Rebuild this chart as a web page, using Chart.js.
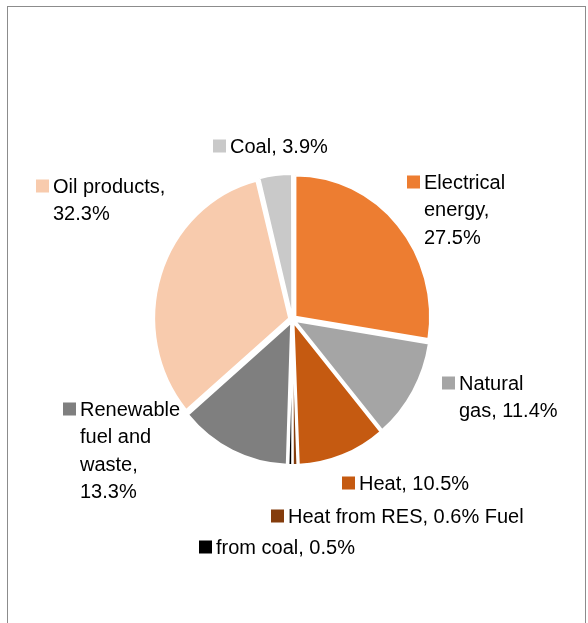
<!DOCTYPE html>
<html>
<head>
<meta charset="utf-8">
<title>Final energy consumption by fuel</title>
<script src="https://cdn.jsdelivr.net/npm/chart.js@4.4.1/dist/chart.umd.min.js"></script>
<style>
    html, body { margin: 0; padding: 0; background: #fff; }
    #wrap { position: relative; width: 588px; height: 623px; overflow: hidden; }
    #frame {
        position: absolute; left: 7px; top: 6px; width: 579px; height: 640px;
        border: 1px solid #8c8c8c; box-sizing: border-box;
    }
    canvas { position: absolute; left: 0; top: 0; }
</style>
</head>
<body>
<div id="wrap">
    <div id="frame"></div>
    <canvas id="pie" width="588" height="623"></canvas>
</div>
<script>
// slices, clockwise from 12 o'clock
const categories = ['Electrical energy', 'Natural gas', 'Heat', 'Heat from RES',
    'Fuel from coal', 'Renewable fuel and waste', 'Oil products', 'Coal'];
const shares = [27.5, 11.4, 10.5, 0.6, 0.5, 13.3, 32.3, 3.9];
const sliceColors = ['#ed7d31', '#a5a5a5', '#c55a11', '#843c0c',
    '#000000', '#7f7f7f', '#f8cbad', '#c9c9c9'];

// label placement: left edge of text, centre of first line, wrap width
const labelBoxes = [
    { x: 424, y: 183, w: 95 },
    { x: 459, y: 384, w: 103 },
    { x: 359, y: 484, w: 220 },
    { x: 288, y: 517, w: 300 },
    { x: 216, y: 548, w: 220 },
    { x: 80,  y: 410, w: 110 },
    { x: 53,  y: 187, w: 140 },
    { x: 230, y: 147, w: 220 }
];

const labelText = categories.map((c, i) => c + ', ' + shares[i].toFixed(1) + '%');
// the coal label spills its first word onto the line above
labelText[3] += ' Fuel';
labelText[4] = labelText[4].replace(/^Fuel /, '');

const FONT = '20px "Liberation Sans", Arial, sans-serif';
const LINE_H = 27.5;
const KEY = 13;
const EXPLODE = 4;          // px every slice is pulled out from the centre
const SQUASH = [0.975, 1.025]; // the pie is drawn slightly taller than wide

function wrapWords(ctx, text, maxW) {
    const words = text.split(' ');
    const lines = [];
    let cur = '';
    words.forEach(w => {
        const test = cur ? cur + ' ' + w : w;
        if (cur && ctx.measureText(test).width > maxW) {
            lines.push(cur);
            cur = w;
        } else {
            cur = test;
        }
    });
    if (cur) lines.push(cur);
    return lines;
}

// Chart.js draws offset/4 and adds extra for thin arcs; undo that so
// all slices sit the same distance out
function sliceOffset(ctx) {
    const circ = shares[ctx.dataIndex] / 100 * Math.PI * 2;
    const fix = 1 - Math.sin(Math.min(Math.PI, circ));
    return 4 * EXPLODE / (1 + fix);
}

// stretch the pie about its own centre
const ovalPie = {
    id: 'ovalPie',
    beforeDatasetsDraw(chart) {
        const arc = chart.getDatasetMeta(0).data[0];
        const ctx = chart.ctx;
        ctx.save();
        ctx.translate(arc.x, arc.y);
        ctx.scale(SQUASH[0], SQUASH[1]);
        ctx.translate(-arc.x, -arc.y);
    },
    afterDatasetsDraw(chart) {
        chart.ctx.restore();
    }
};

// data labels with a colour key in front of the first line
const sliceLabels = {
    id: 'sliceLabels',
    afterDraw(chart) {
        const ctx = chart.ctx;
        ctx.save();
        ctx.font = FONT;
        ctx.textBaseline = 'middle';
        ctx.textAlign = 'left';
        labelBoxes.forEach((b, i) => {
            const lines = wrapWords(ctx, labelText[i], b.w);
            ctx.fillStyle = sliceColors[i];
            ctx.fillRect(b.x - KEY - 4, b.y - KEY / 2 - 1, KEY, KEY);
            ctx.fillStyle = '#000';
            lines.forEach((ln, k) => ctx.fillText(ln, b.x, b.y + k * LINE_H));
        });
        ctx.restore();
    }
};

new Chart(document.getElementById('pie'), {
    type: 'pie',
    data: {
        labels: categories,
        datasets: [{
            data: shares,
            backgroundColor: sliceColors,
            borderColor: '#ffffff',
            borderWidth: 2,
            offset: sliceOffset,
            radius: 138
        }]
    },
    options: {
        responsive: false,
        animation: false,
        layout: { padding: { left: 101, right: 104, top: 117, bottom: 101 } },
        plugins: {
            legend: { display: false },
            tooltip: { enabled: false }
        }
    },
    plugins: [ovalPie, sliceLabels]
});
</script>
</body>
</html>
